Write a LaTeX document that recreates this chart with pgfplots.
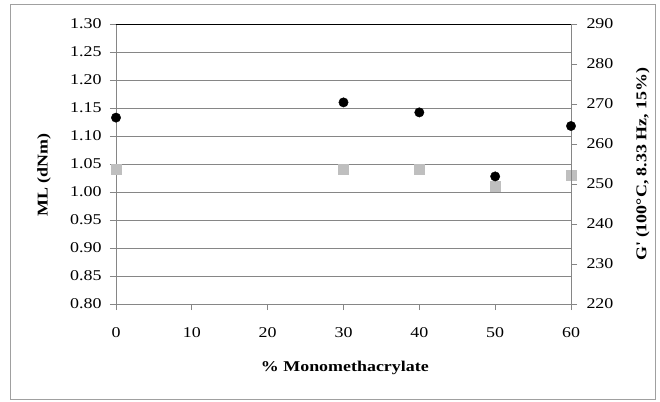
\documentclass[border=0pt]{standalone}
\usepackage{fontspec}
\setmainfont[FakeStretch=1.2]{Liberation Serif}
\usepackage{pgfplots}
\pgfplotsset{compat=1.18}
\definecolor{gridgray}{HTML}{868686}
\definecolor{sqgray}{HTML}{BFBFBF}
\definecolor{framegray}{HTML}{A0A0A0}
\begin{document}
\begin{tikzpicture}[x=1bp,y=1bp]
\useasboundingbox (-116,-97) rectangle (544,304);
\draw[color=framegray, line width=1bp] (-105.5,-95) rectangle (539,299.3);
\pgfplotsset{
  common/.style={
    at={(0,0)}, anchor=south west,
    scale only axis, width=455bp, height=280bp,
    xmin=0, xmax=60, clip=false,
    /pgf/number format/assume math mode=true,
    tick label style={font=\fontsize{15}{15}\selectfont},
    label style={font=\fontsize{15}{17}\selectfont\bfseries},
    major tick length=6bp,
    tick align=outside,
    every tick/.style={gridgray, line width=0.8bp},
  }
}
\begin{axis}[common,
  axis x line*=bottom, axis y line*=left,
  axis line style={gridgray, line width=0.8bp, -},
  ymin=0.8, ymax=1.3,
  xtick={0,10,20,30,40,50,60},
  ytick={0.80,0.85,0.90,0.95,1.00,1.05,1.10,1.15,1.20,1.25,1.30},
  yticklabel style={xshift=-5bp, /pgf/number format/fixed, /pgf/number format/fixed zerofill, /pgf/number format/precision=2},
  xticklabel style={yshift=-14bp},
  ymajorgrids, grid style={gridgray, line width=0.8bp},
  xlabel={\% Monomethacrylate},
  ylabel={ML (dNm)},
  xlabel style={at={(axis description cs:0.503,-0.229)}, anchor=center},
  ylabel style={at={(axis description cs:-0.158,0.46)}, anchor=center, rotate=0},
]
\addplot[only marks, mark=square*, mark size=5bp, mark options={fill=sqgray, draw=sqgray}]
  coordinates {(0,1.041) (30,1.040) (40,1.040) (50,1.010) (60,1.030)};
\draw[black, line width=1bp] (axis cs:0,1.3) -- (axis cs:60,1.3);
\end{axis}
\begin{axis}[common,
  axis x line=none, axis y line*=right,
  axis line style={gridgray, line width=0.8bp, -},
  ymin=220, ymax=290,
  ytick={220,230,240,250,260,270,280,290},
  yticklabel style={xshift=6bp},
  ylabel={G\textquotesingle{} (100°C, 8.33 Hz, 15\%)},
  ylabel style={at={(axis description cs:1.158,0.5)}, anchor=center, rotate=0},
]
\addplot[only marks, mark=*, mark size=4.7bp, mark options={fill=black, draw=black}]
  coordinates {(0,266.6) (30,270.4) (40,267.9) (50,251.9) (60,264.5)};
\end{axis}
\end{tikzpicture}
\end{document}
